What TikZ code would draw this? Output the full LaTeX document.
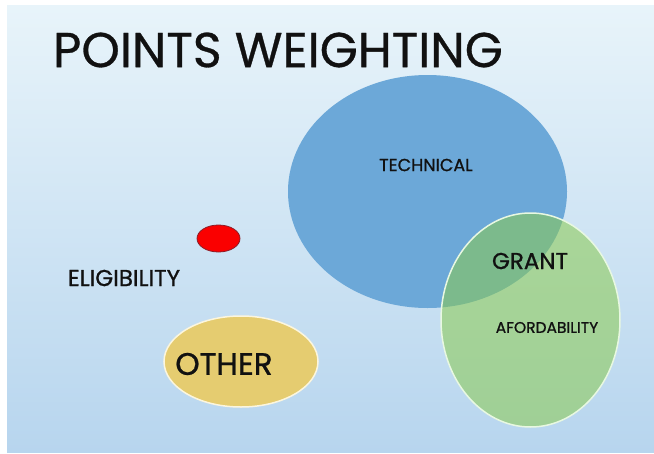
\documentclass[tikz,border=0pt]{standalone}
\usepackage{fontspec}
\setmainfont{Poppins}
\newfontfamily\medfont{Poppins}[FakeBold=0.9]
\newfontfamily\titlefont{Poppins}[FakeBold=0.6]
\usetikzlibrary{shapes.geometric}
\definecolor{bgtop}{RGB}{232,244,250}
\definecolor{bgbot}{RGB}{183,213,238}
\definecolor{techblue}{RGB}{108,168,216}
\definecolor{grantgreen}{RGB}{138,202,78}
\definecolor{greenedge}{RGB}{232,248,225}
\definecolor{othergold}{RGB}{229,204,112}
\definecolor{goldedge}{RGB}{252,246,222}
\definecolor{redfill}{RGB}{250,0,0}
\definecolor{rededge}{RGB}{140,30,40}
\definecolor{ink}{RGB}{17,17,17}
\tikzset{
  blob/.style={ellipse, inner sep=0pt, outer sep=0pt},
  lbl/.style={inner sep=0pt, outer sep=0pt, text=ink},
}
\begin{document}
\begin{tikzpicture}[x=1pt,y=-1pt]
\fill[white] (0,0) rectangle (654,453);
\useasboundingbox (0,0) rectangle (654,453);
\shade[top color=bgtop, bottom color=bgbot] (7,5) rectangle (654,452);
% shapes
\node[blob, fill=techblue, minimum width=279pt, minimum height=233pt] (tech) at (427.5,191.5) {};
\node[blob, fill=grantgreen, fill opacity=0.55, draw=greenedge, line width=1.5pt, minimum width=179pt, minimum height=214pt] (afford) at (530.5,320) {};
\node[blob, fill=redfill, draw=rededge, line width=0.8pt, minimum width=43pt, minimum height=27pt] (elig) at (218.5,238.5) {};
\node[blob, fill=othergold, draw=goldedge, line width=1.5pt, minimum width=154pt, minimum height=91pt] (other) at (241,361.5) {};
% labels
\node[lbl, anchor=west, font=\titlefont\fontsize{49}{49}\selectfont] (title) at (53,50) {POINTS WEIGHTING};
\node[lbl, font=\medfont\fontsize{17.5}{17.5}\selectfont] (techl) at (426,165) {TECHNICAL};
\node[lbl, font=\medfont\fontsize{23}{23}\selectfont] (grantl) at (530,261) {GRANT};
\node[lbl, font=\medfont\fontsize{15.5}{15.5}\selectfont] (affordl) at (547,327.5) {AFORDABILITY};
\node[lbl, font=\medfont\fontsize{23}{23}\selectfont] (eligl) at (124,278) {ELIGIBILITY};
\node[lbl, font=\medfont\fontsize{31}{31}\selectfont] (otherl) at (224,364) {OTHER};
\end{tikzpicture}
\end{document}
